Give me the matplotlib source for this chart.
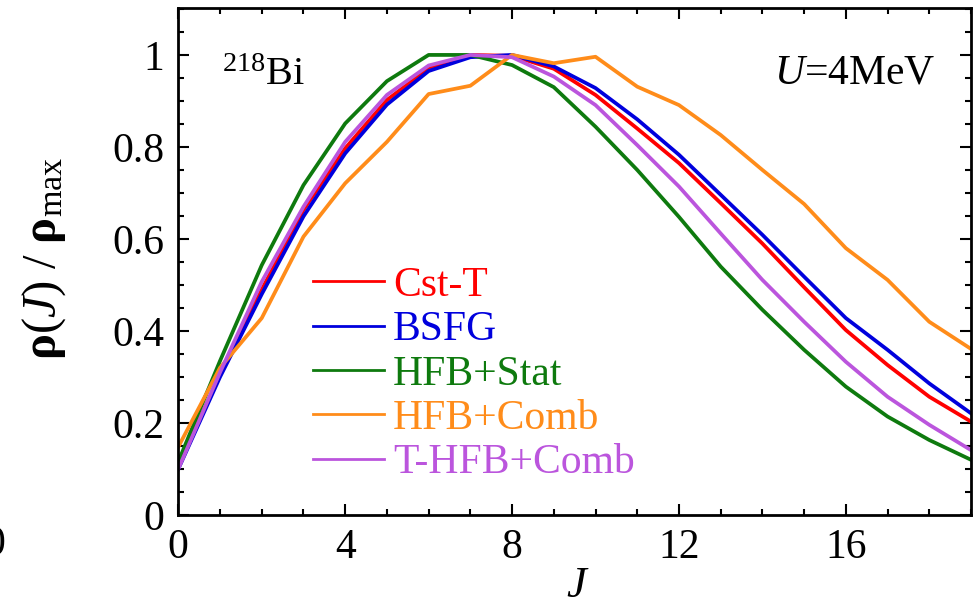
import matplotlib
matplotlib.use("Agg")
import matplotlib.pyplot as plt
from matplotlib.ticker import MultipleLocator, FuncFormatter

plt.rcParams['font.family'] = ['Liberation Serif', 'DejaVu Serif']
plt.rcParams['mathtext.fontset'] = 'custom'
plt.rcParams['mathtext.rm'] = 'Liberation Serif'
plt.rcParams['mathtext.it'] = 'Liberation Serif:italic'
plt.rcParams['mathtext.bf'] = 'Liberation Serif:bold'

J = list(range(20))
cst_t = [0.11, 0.305, 0.49, 0.663, 0.797, 0.902, 0.971, 1.0, 0.998, 0.97,
         0.913, 0.84, 0.765, 0.678, 0.59, 0.495, 0.402, 0.326, 0.257, 0.203]
bsfg = [0.10, 0.30, 0.48, 0.649, 0.786, 0.892, 0.965, 0.995, 1.0, 0.975,
        0.928, 0.86, 0.783, 0.696, 0.609, 0.518, 0.428, 0.359, 0.286, 0.221]
hfb_stat = [0.116, 0.335, 0.543, 0.717, 0.851, 0.943, 1.0, 1.0, 0.978, 0.93,
            0.844, 0.75, 0.648, 0.54, 0.446, 0.359, 0.279, 0.214, 0.163, 0.12]
hfb_comb = [0.148, 0.32, 0.428, 0.605, 0.721, 0.811, 0.915, 0.933, 1.0, 0.982,
            0.996, 0.931, 0.891, 0.826, 0.75, 0.676, 0.58, 0.511, 0.42, 0.361]
thfb_comb = [0.10, 0.31, 0.507, 0.670, 0.811, 0.913, 0.977, 1.0, 0.995, 0.953,
             0.891, 0.804, 0.714, 0.612, 0.511, 0.42, 0.333, 0.257, 0.196, 0.141]

labels = ['Cst-T', 'BSFG', 'HFB+Stat', 'HFB+Comb', 'T-HFB+Comb']
colors = ['#FF0000', '#0000DD', '#0E7A0E', '#FF8C1A', '#BB55DD']
series = [cst_t, bsfg, hfb_stat, hfb_comb, thfb_comb]

fig = plt.figure(figsize=(9.77, 6.05), dpi=100)
ax = fig.add_axes([178.3/977, 1-515/605, (971-178.3)/977, (515-8)/605])

for y, c, l in zip(series, colors, labels):
    ax.plot(J, y, color=c, lw=2.7, label=l)

ax.set_xlim(0, 19)
ax.set_ylim(0, 1.102)
ax.xaxis.set_major_locator(MultipleLocator(4))
ax.xaxis.set_minor_locator(MultipleLocator(1))
ax.yaxis.set_major_locator(MultipleLocator(0.2))
ax.yaxis.set_minor_locator(MultipleLocator(0.05))
ax.yaxis.set_major_formatter(FuncFormatter(lambda v, p: '%g' % round(v, 2)))
ax.tick_params(which='both', direction='in', top=True, right=True,
               labelsize=30, width=1.5)
ax.tick_params(which='major', length=8, pad=10)
ax.tick_params(which='minor', length=4)
for s in ax.spines.values():
    s.set_linewidth(2)

ax.set_xlabel(r'$\mathit{J}$', fontsize=32)
ax.xaxis.set_label_coords((578-178.3)/792.7, (515-566)/507)
ax.set_ylabel(r'$\mathbf{\rho}(\mathit{J})\ /\ \mathbf{\rho}_{\mathrm{max}}$',
              fontsize=35)
ax.yaxis.set_label_coords((68-178.3)/792.7, (515-258)/507)

ax.text((222-178.3)/792.7, (515-85)/507, r'$^{218}$Bi', transform=ax.transAxes,
        fontsize=29, va='baseline')
ax.text((935-178.3)/792.7, (515-83)/507, r'$\mathit{U}$=4MeV',
        transform=ax.transAxes, fontsize=30, ha='right', va='baseline')

leg = ax.legend(loc='upper left', bbox_to_anchor=(0.170, 0.49),
                frameon=False, fontsize=30, handlelength=1.7,
                handletextpad=0.22, labelspacing=0.14, labelcolor='linecolor',
                borderaxespad=0, borderpad=0)
for h in leg.get_lines():
    h.set_linewidth(2)

fig.text(5/977, 1-545/605, '0', fontsize=30, ha='right', va='center')

fig.savefig('out.png', dpi=100)
